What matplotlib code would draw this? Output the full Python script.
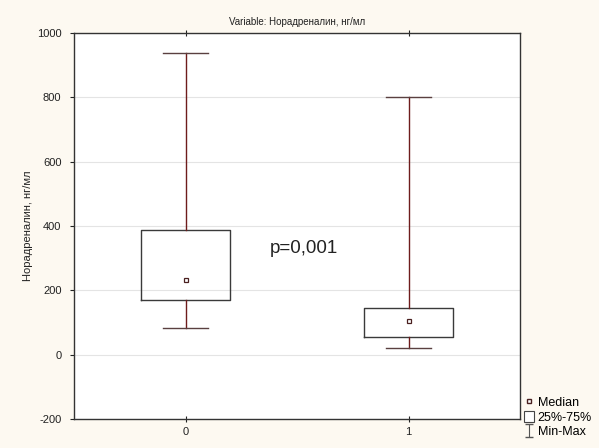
import matplotlib
matplotlib.use("Agg")
import matplotlib.pyplot as plt
from matplotlib.patches import Patch
from matplotlib.lines import Line2D

plt.rcParams['font.family'] = ['Liberation Sans', 'DejaVu Sans']
plt.rcParams['axes.unicode_minus'] = False

# data
groups = ['0', '1']
medians = [232, 105]
q1 = [170, 55]
q3 = [388, 145]
mins = [82, 21]
maxs = [937, 800]

title = 'Variable: Норадреналин, нг/мл'
ylabel = 'Норадреналин, нг/мл'
ptext = 'p=0,001'

whisker_col = '#6e1c1c'
box_col = '#3a3a3a'

fig = plt.figure(figsize=(5.99, 4.48), dpi=100, facecolor='#fdf9f1')
ax = fig.add_axes([0.1235, 0.0647, 0.745, 0.8616])
ax.set_facecolor('white')

stats = []
for i in range(len(groups)):
    stats.append({'med': medians[i], 'q1': q1[i], 'q3': q3[i],
                  'whislo': mins[i], 'whishi': maxs[i], 'label': groups[i]})

pos = list(range(len(groups)))
ax.bxp(stats, positions=pos, widths=0.4, capwidths=0.2, showfliers=False,
       boxprops=dict(color=box_col, linewidth=1.0),
       whiskerprops=dict(color=whisker_col, linewidth=1.0),
       capprops=dict(color='#5a4040', linewidth=1.0),
       medianprops=dict(visible=False), zorder=3)
ax.plot(pos, medians, linestyle='none', marker='s', markersize=3.5,
        markerfacecolor='white', markeredgecolor='#4a2020', markeredgewidth=0.9, zorder=4)

ax.set_xlim(-0.5, 1.5)
ax.set_ylim(-200, 1000)
ax.set_yticks(range(-200, 1001, 200))
ax.set_xticks(pos)
ax.set_xticklabels(groups)
ax.yaxis.grid(True, color='#e4e4e4', linewidth=0.8, zorder=0)
ax.set_axisbelow(True)

ax.tick_params(axis='y', direction='out', length=3, labelsize=8, colors='#222222',
               width=0.8, pad=6)
ax.tick_params(axis='x', direction='inout', length=4, labelsize=8, colors='#222222',
               top=True, width=0.8, pad=4)
for s in ax.spines.values():
    s.set_color('#333333')
    s.set_linewidth(1.0)

ax.set_title(title, fontsize=7, color='#222222', pad=6)
ax.set_ylabel(ylabel, fontsize=8, color='#222222', labelpad=3)

ax.text(0.53, 329, ptext, fontsize=13.5, color='#222222', ha='center', va='center')

# legend
eb = ax.errorbar([float('nan')], [float('nan')], yerr=[[1], [1]], fmt='none',
                 ecolor='#555555', elinewidth=0.8, capsize=3)
handles = [Line2D([], [], linestyle='none', marker='s', markersize=3.5,
                  markerfacecolor='white', markeredgecolor='#4a2020'),
           Patch(facecolor='white', edgecolor='#444444', linewidth=0.8),
           eb]
labels = ['Median', '25%-75%', 'Min-Max']
fig.legend(handles, labels, loc='lower left', bbox_to_anchor=(0.862, 0.005),
           frameon=False, fontsize=9, handlelength=0.8, handleheight=1.0,
           handletextpad=0.3, labelspacing=0.15, borderaxespad=0.2)

fig.savefig('out.png', dpi=100, facecolor=fig.get_facecolor())
